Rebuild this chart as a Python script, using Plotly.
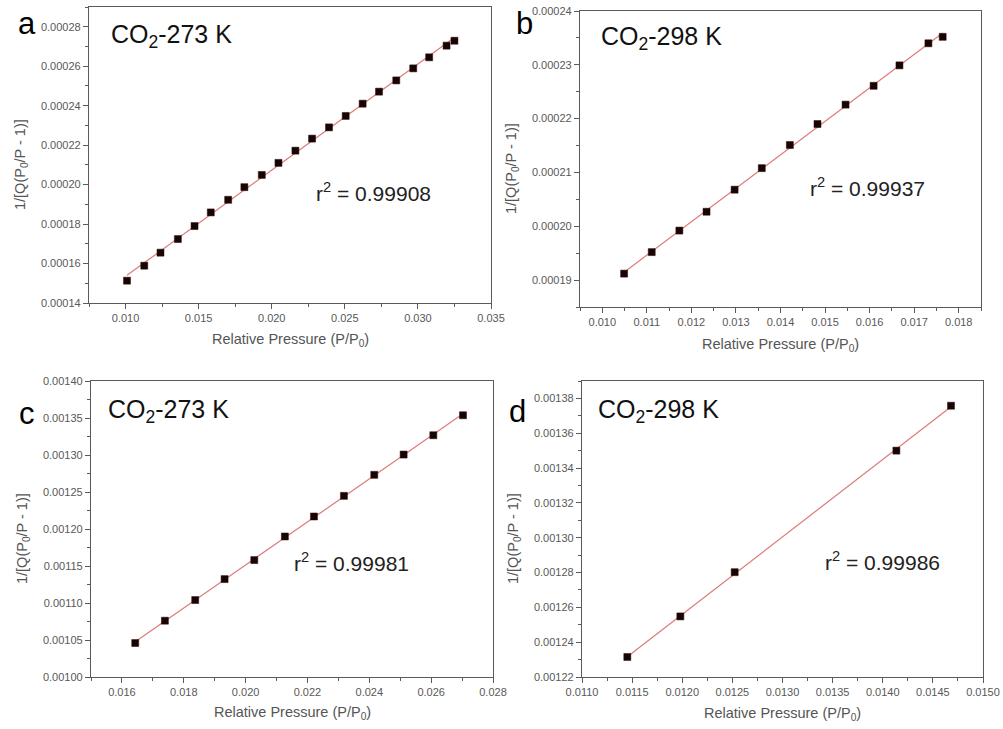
import numpy as np
import plotly.graph_objects as go

W, H = 1003, 729

# ---- data ----
a_x = [0.0101, 0.01128, 0.01239, 0.01358, 0.01472, 0.01583, 0.01702, 0.01813, 0.01932, 0.02046,
       0.02162, 0.02276, 0.02392, 0.02506, 0.02622, 0.02734, 0.02852, 0.02968, 0.03077, 0.03196, 0.0325]
a_y = [0.0001513, 0.0001589, 0.0001655, 0.0001724, 0.0001790, 0.0001859, 0.0001923, 0.0001987,
       0.0002049, 0.0002110, 0.0002172, 0.0002233, 0.0002290, 0.0002348, 0.0002410, 0.0002471,
       0.0002528, 0.0002589, 0.0002645, 0.0002704, 0.0002729]

b_x = [0.01049, 0.01111, 0.01173, 0.01234, 0.01297, 0.01358, 0.01421, 0.01483, 0.01546, 0.01609,
       0.01667, 0.01732, 0.01764]
b_y = [0.0001912, 0.0001952, 0.0001992, 0.0002027, 0.0002068, 0.0002108, 0.0002151, 0.0002190,
       0.0002226, 0.0002261, 0.0002299, 0.0002340, 0.0002352]

c_x = [0.01643, 0.01739, 0.01837, 0.01932, 0.02028, 0.02127, 0.02221, 0.02318, 0.02416, 0.02511,
       0.02607, 0.02703]
c_y = [0.0010459, 0.0010761, 0.0011040, 0.0011323, 0.0011580, 0.0011899, 0.0012169, 0.0012448,
       0.0012732, 0.0013006, 0.0013267, 0.0013537]

d_x = [0.011452, 0.011981, 0.012523, 0.014136, 0.014681]
d_y = [0.0012315, 0.0012548, 0.0012802, 0.0013500, 0.0013758]

panel_letters = ["a", "b", "c", "d"]
panel_titles = ["CO<sub>2</sub>-273 K", "CO<sub>2</sub>-298 K", "CO<sub>2</sub>-273 K", "CO<sub>2</sub>-298 K"]
r2_labels = ["0.99908", "0.99937", "0.99981", "0.99986"]
x_title = "Relative Pressure (P/P<sub>0</sub>)"
y_title = "1/[Q(P<sub>0</sub>/P - 1)]"

series = [(a_x, a_y), (b_x, b_y), (c_x, c_y), (d_x, d_y)]

# ---- layout helpers ----
def px_x(p):
    return p / W

def px_y(p):
    return 1 - p / H

# plot frames in pixels: left, top, right, bottom
frames = [(89, 7, 491, 303), (580, 11, 981, 307), (91, 381, 493, 677), (582, 381, 983, 677)]
xranges = [[0.0075, 0.035], [0.0095, 0.0185], [0.015, 0.028], [0.011, 0.015]]
yranges = [[0.00014, 0.00029], [0.000185, 0.00024], [0.00100, 0.00140], [0.00122, 0.00139]]
xdt = [(0.010, 0.005, ".3f"), (0.010, 0.001, ".3f"), (0.016, 0.002, ".3f"), (0.011, 0.0005, ".4f")]
ydt = [(0.00014, 0.00002, ".5f"), (0.00019, 0.00001, ".5f"), (0.00100, 0.00005, ".5f"), (0.00122, 0.00002, ".5f")]

axcol = "#5a5a5a"
tickfont = dict(family="Liberation Sans, Arial", size=11, color="#585858")

fig = go.Figure()
layout = dict(width=W, height=H,
              margin=dict(l=0, r=0, t=0, b=0, pad=0, autoexpand=False),
              paper_bgcolor="white", plot_bgcolor="white", showlegend=False,
              font=dict(family="Liberation Sans, Arial", color="#333"))
annotations = []

for i, ((xs, ys), fr) in enumerate(zip(series, frames)):
    n = "" if i == 0 else str(i + 1)
    l, t, r, b = fr
    xa = "x" + n
    ya = "y" + n
    # linear fit line computed from the data
    k, c0 = np.polyfit(xs, ys, 1)
    fx = [min(xs), max(xs)]
    fy = [k * v + c0 for v in fx]
    fig.add_trace(go.Scatter(x=fx, y=fy, mode="lines", line=dict(color="#dc7a7a", width=1.2),
                             xaxis=xa, yaxis=ya, hoverinfo="skip"))
    fig.add_trace(go.Scatter(x=xs, y=ys, mode="markers",
                             marker=dict(symbol="square", size=7, color="#150606",
                                         line=dict(color="#3a0000", width=0.5)),
                             xaxis=xa, yaxis=ya))
    x0, xd, xf = xdt[i]
    y0, yd, yf = ydt[i]
    layout["xaxis" + n] = dict(domain=[px_x(l), px_x(r)], anchor=ya, range=xranges[i],
                               tick0=x0, dtick=xd, tickformat=xf, ticks="outside", ticklen=5,
                               tickcolor=axcol, showline=True, linecolor=axcol, linewidth=1.2,
                               mirror=True, showgrid=False, zeroline=False, tickfont=tickfont,
                               automargin=False,
                               minor=dict(ticks="outside", ticklen=3, tick0=x0, dtick=xd / 2,
                                          tickcolor=axcol, showgrid=False))
    layout["yaxis" + n] = dict(domain=[px_y(b), px_y(t)], anchor=xa, range=yranges[i],
                               tick0=y0, dtick=yd, tickformat=yf, ticks="outside", ticklen=5,
                               tickcolor=axcol, showline=True, linecolor=axcol, linewidth=1.2,
                               mirror=True, showgrid=False, zeroline=False, tickfont=tickfont,
                               automargin=False,
                               minor=dict(ticks="outside", ticklen=3, tick0=y0, dtick=yd / 2,
                                          tickcolor=axcol, showgrid=False))

# annotation positions (pixels)
letter_pos = [(27, 24), (524, 24), (27, 413), (517, 411)]
title_pos = [(109, 36), (599, 38), (106, 411), (596, 411)]
r2_pos = [(314, 192), (808, 187), (292, 562), (823, 561)]
xt_pos = [(290, 340), (780, 345), (292, 713), (782, 714)]
yt_pos = [(21, 165), (512, 168), (23, 539), (514, 539)]

for i in range(4):
    lx, ly = letter_pos[i]
    annotations.append(dict(x=px_x(lx), y=px_y(ly), xref="paper", yref="paper", text=panel_letters[i],
                            showarrow=False, xanchor="center", yanchor="middle",
                            font=dict(family="Liberation Sans, Arial", size=31, color="black")))
    tx, ty = title_pos[i]
    annotations.append(dict(x=px_x(tx), y=px_y(ty), xref="paper", yref="paper", text=panel_titles[i],
                            showarrow=False, xanchor="left", yanchor="middle",
                            font=dict(family="Liberation Sans, Arial", size=25, color="#111")))
    rx, ry = r2_pos[i]
    annotations.append(dict(x=px_x(rx), y=px_y(ry), xref="paper", yref="paper",
                            text="r<sup>2</sup> = " + r2_labels[i],
                            showarrow=False, xanchor="left", yanchor="middle",
                            font=dict(family="Liberation Sans, Arial", size=21, color="#222")))
    xx, xy = xt_pos[i]
    annotations.append(dict(x=px_x(xx), y=px_y(xy), xref="paper", yref="paper", text=x_title,
                            showarrow=False, xanchor="center", yanchor="middle",
                            font=dict(family="Liberation Sans, Arial", size=14.5, color="#555")))
    yx, yy = yt_pos[i]
    annotations.append(dict(x=px_x(yx), y=px_y(yy), xref="paper", yref="paper", text=y_title,
                            showarrow=False, xanchor="center", yanchor="middle", textangle=-90,
                            font=dict(family="Liberation Sans, Arial", size=14.5, color="#555")))

layout["annotations"] = annotations
fig.update_layout(**layout)
fig.write_html("out.html")
